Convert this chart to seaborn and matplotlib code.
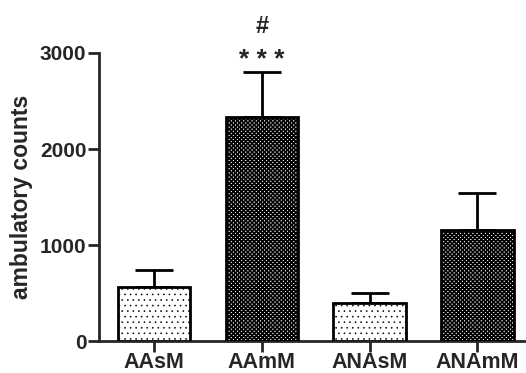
import pandas as pd
import matplotlib
matplotlib.use("Agg")
import matplotlib.pyplot as plt
import seaborn as sns
import numpy as np

groups = ["AAsM", "AAmM", "ANAsM", "ANAmM"]
means = [562, 2337, 400, 1161]
errs = [183, 463, 103, 387]
hatches = ["...", "xxxxxxxx", "...", "xxxxxxxx"]

sns.set_style("ticks")
plt.rcParams["font.family"] = ["Liberation Sans", "DejaVu Sans"]
plt.rcParams["font.weight"] = "bold"
plt.rcParams["hatch.linewidth"] = 1.2

df = pd.DataFrame({"group": groups, "count": means})

fig = plt.figure(figsize=(5.26, 3.73), dpi=100)
ax = fig.add_axes([0.188, 0.085, 0.812, 0.773])

sns.barplot(data=df, x="group", y="count", color="white", width=0.67,
            edgecolor="black", linewidth=2, ax=ax, zorder=3)
for bar, h in zip(ax.patches, hatches):
    bar.set_hatch(h)
    if h.startswith("."):
        try:
            bar.set_hatch_linewidth(0.4)
        except AttributeError:
            pass

x = np.arange(len(groups))
ax.errorbar(x, means, yerr=[np.zeros(len(errs)), errs], fmt="none",
            ecolor="black", elinewidth=2, capsize=14, capthick=2, zorder=2)

ax.text(1, 2930, "* * *", ha="center", va="center", fontsize=19, clip_on=False)
ax.text(1, 3280, "#", ha="center", va="center", fontsize=17, clip_on=False)

ax.set_xlim(-0.51, 3.45)
ax.set_ylim(0, 3000)
ax.set_yticks([0, 1000, 2000, 3000])
ax.set_xlabel("")
ax.set_ylabel("ambulatory counts", fontsize=16.5, fontweight="bold", labelpad=5)
ax.tick_params(axis="both", width=2, length=8)
ax.tick_params(axis="x", labelsize=15.5, pad=0)
ax.tick_params(axis="y", labelsize=15, pad=1)
for s in ["top", "right"]:
    ax.spines[s].set_visible(False)
for s in ["left", "bottom"]:
    ax.spines[s].set_linewidth(2)
for t in ax.get_xticklabels() + ax.get_yticklabels():
    t.set_fontweight("bold")

fig.savefig("out.png", dpi=100)
